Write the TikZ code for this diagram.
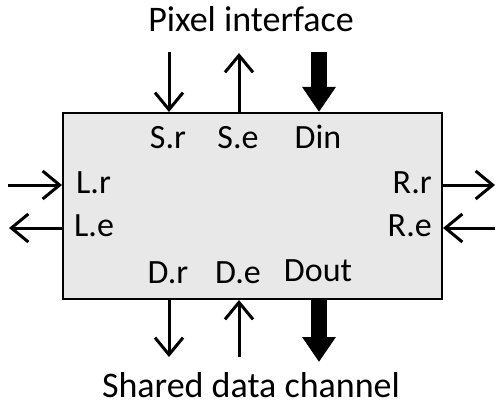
\documentclass[tikz,border=0pt]{standalone}
\usepackage{fontspec}
\setmainfont{Carlito}
\usetikzlibrary{arrows.meta}
\begin{document}
\begin{tikzpicture}[x=1pt,y=-1pt,
  lbl/.style={font=\fontsize{34}{40}\selectfont, inner sep=0pt, anchor=base},
  ttl/.style={font=\fontsize{36}{42}\selectfont, inner sep=0pt, anchor=base},
  sig/.style={line width=3pt, -{Straight Barb[length=17pt,width=28pt,line width=3pt]}},
  bus/.style={line width=16pt, -{Triangle[length=25pt,width=32pt]}}]
  \useasboundingbox (0,0) rectangle (497,409);
  % core block
  \node[draw, line width=2pt, fill=gray!18, minimum width=379pt, minimum height=186pt,
        inner sep=0pt] (blk) at (252.5,206) {};
  % port labels
  \node[lbl] (sr) at (168,148) {S.r};
  \node[lbl] (se) at (238,148) {S.e};
  \node[lbl] (din) at (318,148) {Din};
  \node[lbl] (dr) at (168,283) {D.r};
  \node[lbl] (de) at (238,283) {D.e};
  \node[lbl] (dout) at (318,281) {Dout};
  \node[lbl, anchor=base west] (lr) at (76,193) {L.r};
  \node[lbl, anchor=base west] (le) at (74,236) {L.e};
  \node[lbl, anchor=base east] (rr) at (432,193) {R.r};
  \node[lbl, anchor=base east] (re) at (432,236) {R.e};
  % interface titles
  \node[ttl] (pix) at (251,32) {Pixel interface};
  \node[ttl] (shd) at (251,397) {Shared data channel};
  % free ends of the connectors
  \coordinate (srT) at (169,52);  \coordinate (seT) at (239,53);  \coordinate (dinT) at (319,52);
  \coordinate (drB) at (169,357); \coordinate (deB) at (239,357); \coordinate (doutB) at (319,362);
  \coordinate (lrL) at (8,185);   \coordinate (leL) at (9,228);
  \coordinate (rrR) at (495,185); \coordinate (reR) at (495,228);
  % pixel interface side
  \draw[sig] (srT) -- (srT |- blk.north);
  \draw[sig] (seT |- blk.north) -- (seT);
  \draw[bus] (dinT) -- (dinT |- blk.north);
  % shared data channel side
  \draw[sig] (drB |- blk.south) -- (drB);
  \draw[sig] (deB) -- (deB |- blk.south);
  \draw[bus] (doutB |- blk.south) -- (doutB);
  % left and right neighbours
  \draw[sig] (lrL) -- (lrL -| blk.west);
  \draw[sig] (leL -| blk.west) -- (leL);
  \draw[sig] (rrR -| blk.east) -- (rrR);
  \draw[sig] (reR) -- (reR -| blk.east);
\end{tikzpicture}
\end{document}
